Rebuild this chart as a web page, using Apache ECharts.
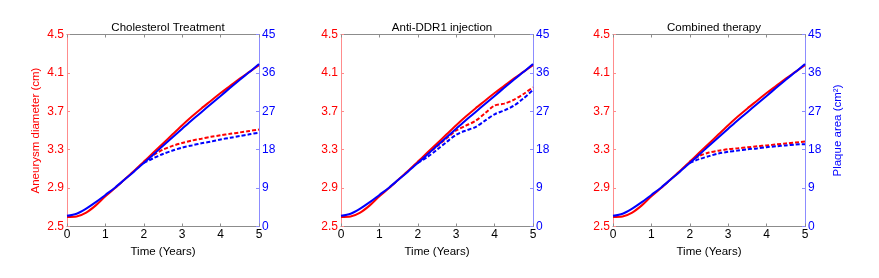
<!DOCTYPE html>
<html><head><meta charset="utf-8">
<script src="https://cdn.jsdelivr.net/npm/echarts@6/dist/echarts.min.js"></script>
<style>html,body{margin:0;padding:0;background:#fff}#c{width:879px;height:278px}</style>
</head><body><div id="c"></div>
<script>
const titles = ["Cholesterol Treatment", "Anti-DDR1 injection", "Combined therapy"];
const T  = [0,0.25,0.5,0.75,1,1.25,1.5,1.75,2,2.25,2.5,2.75,3,3.25,3.5,3.75,4,4.25,4.5,4.75,5];
const TD = [2,2.25,2.5,2.75,3,3.25,3.5,3.75,4,4.25,4.5,4.75,5];
const xTicks = [0,1,2,3,4,5];
const redTicks = [2.5,2.9,3.3,3.7,4.1,4.5];
const blueTicks = [0,9,18,27,36,45];

// solid (untreated) curves
const redSolid  = [2.6,2.605,2.645,2.72,2.815,2.9,2.99,3.08,3.175,3.27,3.365,3.46,3.555,3.645,3.73,3.81,3.89,3.965,4.04,4.11,4.18];
const blueSolid = [2.5,3.0,4.2,5.7,7.4,9.1,11.0,12.9,14.9,16.9,18.9,20.9,22.9,24.9,26.8,28.7,30.6,32.5,34.4,36.2,38.1];

// dashed (treated) curves from year 2
const cholRedDash  = [3.175,3.245,3.30,3.34,3.37,3.395,3.415,3.435,3.45,3.465,3.48,3.495,3.51];
const cholBlueDash = [14.9,16.0,17.0,17.8,18.5,19.0,19.5,19.9,20.4,20.8,21.2,21.6,22.0];
const ddrRedDash   = [3.175,3.255,3.335,3.42,3.50,3.55,3.60,3.68,3.76,3.78,3.82,3.88,3.95];
const ddrBlueDash  = [14.9,16.3,18.0,19.8,21.5,22.5,23.3,24.8,26.3,27.2,28.3,30.0,32.0];
const combRedDash  = [3.175,3.235,3.27,3.29,3.305,3.315,3.325,3.335,3.345,3.355,3.365,3.375,3.385];
const combBlueDash = [14.9,15.8,16.5,17.1,17.5,17.8,18.1,18.3,18.6,18.8,19.0,19.2,19.3];

const redDashes = [cholRedDash, ddrRedDash, combRedDash];
const blueDashes = [cholBlueDash, ddrBlueDash, combBlueDash];

const FONT = "Liberation Sans, Arial, sans-serif";
const lefts = [67, 341, 613];
const W = 192, TOP = 34.5, H = 192;
const RED = '#ff0000', BLUE = '#0000ff';

const pair = (xs, ys) => xs.map((x, i) => [x, ys[i]]);

const option = {
  animation: false,
  backgroundColor: '#fff',
  title: [], grid: [], xAxis: [], yAxis: [], series: []
};

for (let p = 0; p < 3; p++) {
  option.title.push({
    text: titles[p], left: lefts[p] + W / 2, top: 17, textAlign: 'center',
    textStyle: { fontFamily: FONT, fontSize: 11.5, fontWeight: 'normal', color: '#000' }
  });
  option.grid.push({ left: lefts[p], top: TOP, width: W, height: H, containLabel: false });
  option.xAxis.push({
    type: 'value', gridIndex: p, min: 0, max: 5, interval: 1, position: 'bottom',
    name: 'Time (Years)', nameLocation: 'middle', nameGap: 14,
    nameTextStyle: { fontFamily: FONT, fontSize: 11.5, color: '#000' },
    axisLine: { show: true, onZero: false, lineStyle: { color: '#8c8c8c', width: 1 } },
    axisTick: { show: true, inside: true, length: 3, lineStyle: { color: '#8c8c8c' } },
    axisLabel: { fontFamily: FONT, fontSize: 12, color: '#000', margin: 2,
      customValues: xTicks, formatter: v => String(v) },
    splitLine: { show: false }
  });
  option.xAxis.push({
    type: 'value', gridIndex: p, min: 0, max: 5, interval: 1, position: 'top',
    axisLine: { show: true, onZero: false, lineStyle: { color: '#8c8c8c', width: 1 } },
    axisTick: { show: true, inside: true, length: 3, lineStyle: { color: '#8c8c8c' } },
    axisLabel: { show: false }, splitLine: { show: false }
  });
  option.yAxis.push({
    type: 'value', gridIndex: p, min: 2.5, max: 4.5, position: 'left',
    name: p === 0 ? 'Aneurysm diameter (cm)' : '', nameLocation: 'middle', nameGap: 25,
    nameTextStyle: { fontFamily: FONT, fontSize: 11.5, color: RED },
    axisLine: { show: true, onZero: false, lineStyle: { color: '#ff8c8c', width: 1 } },
    axisTick: { show: true, inside: true, length: 3, lineStyle: { color: '#ff8c8c' }, customValues: redTicks },
    axisLabel: { fontFamily: FONT, fontSize: 12, color: RED, margin: 3,
      customValues: redTicks, formatter: v => v.toFixed(1) },
    splitLine: { show: false }
  });
  option.yAxis.push({
    type: 'value', gridIndex: p, min: 0, max: 45, interval: 9, position: 'right',
    name: p === 2 ? 'Plaque area (cm²)' : '', nameLocation: 'middle', nameGap: 27,
    nameRotate: 90,
    nameTextStyle: { fontFamily: FONT, fontSize: 11.5, color: BLUE },
    axisLine: { show: true, onZero: false, lineStyle: { color: '#8c8cff', width: 1 } },
    axisTick: { show: true, inside: true, length: 3, lineStyle: { color: '#8c8cff' }, customValues: blueTicks },
    axisLabel: { fontFamily: FONT, fontSize: 12, color: BLUE, margin: 3,
      customValues: blueTicks, formatter: v => String(v) },
    splitLine: { show: false }
  });

  const xb = p * 2, yl = p * 2, yr = p * 2 + 1;
  const base = { type: 'line', showSymbol: false, symbol: 'none', smooth: 0.3, xAxisIndex: xb, silent: true };
  option.series.push(Object.assign({}, base, { yAxisIndex: yl, data: pair(T, redSolid),
    lineStyle: { color: RED, width: 2 } }));
  option.series.push(Object.assign({}, base, { yAxisIndex: yl, data: pair(TD, redDashes[p]),
    lineStyle: { color: RED, width: 2, type: [4, 2] } }));
  option.series.push(Object.assign({}, base, { yAxisIndex: yr, data: pair(T, blueSolid),
    lineStyle: { color: BLUE, width: 2 } }));
  option.series.push(Object.assign({}, base, { yAxisIndex: yr, data: pair(TD, blueDashes[p]),
    lineStyle: { color: BLUE, width: 2, type: [4, 2] } }));
}

const chart = echarts.init(document.getElementById('c'), null, { renderer: 'canvas' });
chart.setOption(option);
</script>
</body></html>
